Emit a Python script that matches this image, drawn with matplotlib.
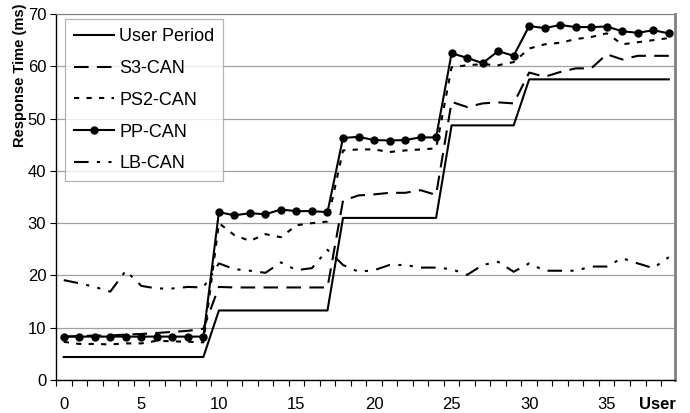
import matplotlib
matplotlib.use("Agg")
import matplotlib.pyplot as plt
import numpy as np

plt.rcParams['font.family'] = ['Liberation Sans', 'DejaVu Sans']

users = list(range(40))
user_period = [4.4]*10 + [13.3]*8 + [31.0]*7 + [48.7]*5 + [57.5]*10
s3_can = [8.3, 8.4, 8.5, 8.5, 8.7, 8.8, 9.0, 9.2, 9.4, 9.8,
          17.8, 17.7, 17.7, 17.7, 17.7, 17.7, 17.7, 17.7,
          34.3, 35.3, 35.5, 35.8, 35.8, 36.3, 35.4,
          53.2, 52.2, 52.9, 53.1, 52.9,
          58.8, 58.0, 58.9, 59.6, 59.6, 62.3, 61.3, 62.0, 62.0, 62.0]
ps2_can = [7.3, 6.9, 6.9, 6.8, 7.0, 7.0, 7.5, 7.4, 7.3, 7.2,
           30.0, 27.7, 26.6, 27.9, 27.3, 29.6, 30.0, 30.3,
           43.9, 44.1, 44.1, 43.6, 43.9, 44.1, 44.3,
           59.8, 60.2, 60.4, 60.2, 60.8,
           63.4, 64.2, 64.5, 65.2, 65.6, 66.3, 64.2, 64.6, 65.0, 65.4]
pp_can = [8.3]*10 + [32.1, 31.5, 31.9, 31.7, 32.6, 32.3, 32.3, 32.1,
                     46.3, 46.5, 45.9, 45.8, 45.9, 46.4, 46.4,
                     62.5, 61.6, 60.6, 62.9, 62.0,
                     67.7, 67.3, 67.9, 67.5, 67.5, 67.6, 66.7, 66.4, 66.9, 66.3]
lb_can = [19.1, 18.5, 17.8, 16.9, 20.9, 18.0, 17.5, 17.5, 17.8, 17.7,
          22.3, 21.2, 20.9, 20.5, 22.5, 21.0, 21.4, 24.9,
          22.0, 20.7, 21.0, 22.0, 22.0, 21.5, 21.5,
          21.2, 20.1, 22.0, 22.6, 20.7,
          22.3, 20.9, 20.9, 20.9, 21.7, 21.7, 23.3, 22.3, 21.4, 23.5]

fig = plt.figure(figsize=(6.9, 4.13), dpi=100)
ax = fig.add_axes([56/690, 33/413, (675-56)/690, (380-14)/413])

ax.plot(users, user_period, color='black', lw=1.5, label='User Period')
ax.plot(users, s3_can, color='black', lw=1.5, linestyle=(0, (7, 4)), label='S3-CAN')
ax.plot(users, ps2_can, color='black', lw=1.5, linestyle=(0, (2.5, 3.5)), label='PS2-CAN')
ax.plot(users, pp_can, color='black', lw=1.5, marker='o', markersize=5, label='PP-CAN')
ax.plot(users, lb_can, color='black', lw=1.5, linestyle=(0, (7, 4, 1.5, 4, 1.5, 4)), label='LB-CAN')

ax.set_xlim(-0.5, 39.4)
ax.set_ylim(0, 70)
ax.set_yticks(np.arange(0, 71, 10))
ax.set_xticks(np.arange(0, 36, 5))
ax.set_xticks(np.arange(-0.5, 39.5, 1), minor=True)
ax.tick_params(axis='x', which='major', length=0, labelsize=12, pad=12)
ax.tick_params(axis='x', which='minor', length=4, direction='out', width=0.8)
ax.tick_params(axis='y', length=4, direction='out', labelsize=12, width=0.8, pad=3)
ax.yaxis.grid(True, color='#a0a0a0', lw=0.9)
ax.set_axisbelow(True)

for s in ['top', 'right']:
    ax.spines[s].set_color('#808080')
ax.spines['right'].set_linewidth(2)
ax.spines['left'].set_linewidth(1.0)
ax.spines['bottom'].set_linewidth(1.0)

fig.text(20/690, 1 - 75/413, 'Response Time (ms)', fontsize=10.5, fontweight='bold',
         rotation=90, ha='center', va='center')
ax.text(38.3, -4.7, 'User', fontsize=12, fontweight='bold', ha='center', va='center')

leg = ax.legend(loc='upper left', bbox_to_anchor=(0.0145, 0.986), fontsize=13,
                frameon=True, fancybox=False, edgecolor='#a0a0a0',
                handlelength=2.2, labelspacing=0.82, borderpad=0.5, handletextpad=0.3,
                borderaxespad=0)
leg.get_frame().set_linewidth(0.9)

fig.savefig('out.png', dpi=100)
